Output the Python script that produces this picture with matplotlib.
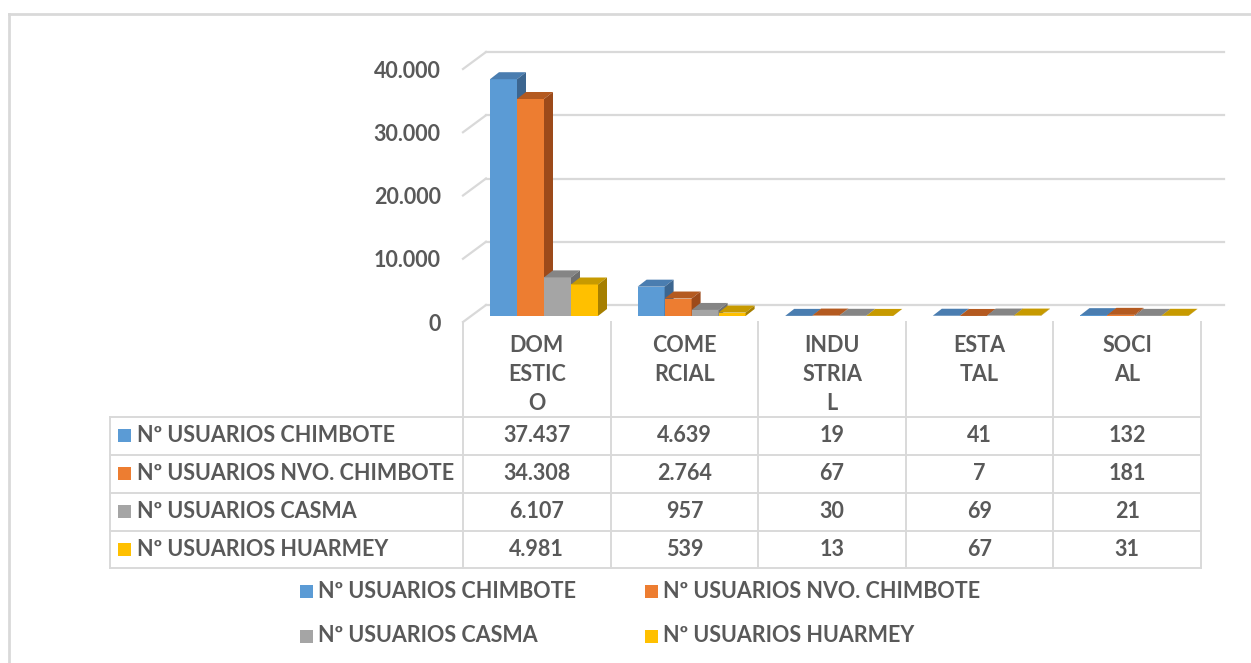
import numpy as np
import matplotlib.pyplot as plt
from matplotlib.patches import Polygon, Rectangle
from matplotlib.lines import Line2D
import matplotlib.transforms as mtransforms

W, H = 1251, 663

categories = ["DOMESTICO", "COMERCIAL", "INDUSTRIAL", "ESTATAL", "SOCIAL"]
cat_lines = [["DOM", "ESTIC", "O"], ["COME", "RCIAL"], ["INDU", "STRIA", "L"],
             ["ESTA", "TAL"], ["SOCI", "AL"]]
series = ["Nº USUARIOS CHIMBOTE", "Nº USUARIOS NVO. CHIMBOTE",
          "Nº USUARIOS CASMA", "Nº USUARIOS HUARMEY"]
chimbote     = [37437, 4639, 19, 41, 132]
nvo_chimbote = [34308, 2764, 67, 7, 181]
casma        = [6107, 957, 30, 69, 21]
huarmey      = [4981, 539, 13, 67, 31]
values = [chimbote, nvo_chimbote, casma, huarmey]
yticks = [0, 10000, 20000, 30000, 40000]

front   = ["#5B9BD5", "#ED7D31", "#A5A5A5", "#FFC000"]
top     = ["#4A7DB0", "#B45A20", "#858585", "#C79A00"]
side    = ["#3C6690", "#9C4A1A", "#6F6F6F", "#A67F00"]
GRID    = "#D9D9D9"
TXT     = "#595959"
FONT    = ["Lato", "DejaVu Sans"]
FS      = 15.5

def fmt(v):
    return f"{v:,}".replace(",", ".")

fig = plt.figure(figsize=(W / 100, H / 100), dpi=100)
# pixel transform, y measured from top
px = mtransforms.Affine2D().scale(1, -1).translate(0, H)

# front plane of the 3D plot
X0, X1, Y0, Y40 = 463, 1201, 322, 69
ax = fig.add_axes([X0 / W, (H - Y0) / H, (X1 - X0) / W, (Y0 - Y40) / H])
ax.set_xlim(0, len(categories))
ax.set_ylim(0, 40000)
for s in ax.spines.values():
    s.set_visible(False)
ax.patch.set_alpha(0)
ax.set_xticks([])
ax.set_yticks(yticks)
ax.set_yticklabels([fmt(v) for v in yticks], fontsize=FS, color=TXT,
                   fontweight="bold", family=FONT)
ax.tick_params(axis="y", length=0, pad=16)

ppx = (X1 - X0) / len(categories)      # pixels per category
ppv = (Y0 - Y40) / 40000               # pixels per unit value
back_dx, back_dv = 23 / ppx, 17 / ppv  # wall depth in data units
bar_dx, bar_dv = 9 / ppx, 7 / ppv      # bar depth
bar_w = 27 / ppx
bar_off = 27 / ppx

# back wall gridlines + left wall diagonals
for v in yticks:
    ax.plot([back_dx, len(categories) + back_dx], [v + back_dv, v + back_dv],
            color=GRID, lw=1.6, clip_on=False, zorder=1)
    ax.plot([0, back_dx], [v, v + back_dv], color=GRID, lw=1.6,
            clip_on=False, zorder=1)

# 3D bars
lift = ax.transData + mtransforms.Affine2D().translate(0, 6)
for i in range(len(categories)):
    for j in range(len(series)):
        v = values[j][i]
        x = i + bar_off + j * bar_w
        ax.add_patch(Rectangle((x, 0), bar_w, v, facecolor=front[j],
                               edgecolor="none", transform=lift,
                               clip_on=False, zorder=3))
        ax.add_patch(Polygon([(x, v), (x + bar_w, v),
                              (x + bar_w + bar_dx, v + bar_dv),
                              (x + bar_dx, v + bar_dv)],
                             facecolor=top[j], edgecolor="none",
                             transform=lift, clip_on=False, zorder=3))
        ax.add_patch(Polygon([(x + bar_w, 0), (x + bar_w + bar_dx, bar_dv),
                              (x + bar_w + bar_dx, v + bar_dv),
                              (x + bar_w, v)],
                             facecolor=side[j], edgecolor="none",
                             transform=lift, clip_on=False, zorder=3))

# outer chart border
fig.add_artist(Line2D([9, W], [14, 14], transform=px, color=GRID, lw=2))
fig.add_artist(Line2D([9, 9], [14, H], transform=px, color=GRID, lw=2))

# data table
TL = 110
row_y = [417, 454.5, 492.5, 530.5, 568]
col_x = [X0 + k * ppx for k in range(len(categories) + 1)]
for y in row_y:
    fig.add_artist(Line2D([TL, X1], [y, y], transform=px, color=GRID, lw=1.4))
fig.add_artist(Line2D([TL, TL], [row_y[0], row_y[-1]], transform=px,
                      color=GRID, lw=1.4))
for x in col_x:
    fig.add_artist(Line2D([x, x], [Y0, row_y[-1]], transform=px,
                          color=GRID, lw=1.4))

for i, lines in enumerate(cat_lines):
    cx = (col_x[i] + col_x[i + 1]) / 2
    for k, t in enumerate(lines):
        fig.text(cx, 345 + k * 29.5, t, transform=px, ha="center", va="center",
                 fontsize=FS, fontweight="bold", color=TXT, family=FONT)

for j, name in enumerate(series):
    cy = (row_y[j] + row_y[j + 1]) / 2
    fig.add_artist(Rectangle((118, cy - 6.5), 13, 13, transform=px,
                             facecolor=front[j], edgecolor="none"))
    fig.text(137, cy, name, transform=px, ha="left", va="center",
             fontsize=FS, fontweight="bold", color=TXT, family=FONT)
    for i in range(len(categories)):
        cx = (col_x[i] + col_x[i + 1]) / 2
        fig.text(cx, cy, fmt(values[j][i]), transform=px, ha="center",
                 va="center", fontsize=FS, fontweight="bold", color=TXT,
                 family=FONT)

# legend below
leg_pos = [(300, 591), (645, 591), (300, 636), (645, 636)]
for j, name in enumerate(series):
    lx, ly = leg_pos[j]
    fig.add_artist(Rectangle((lx, ly - 6.5), 13, 13, transform=px,
                             facecolor=front[j], edgecolor="none"))
    fig.text(lx + 18, ly, name, transform=px, ha="left", va="center",
             fontsize=FS, fontweight="bold", color=TXT, family=FONT)

fig.savefig("out.png", dpi=100)
